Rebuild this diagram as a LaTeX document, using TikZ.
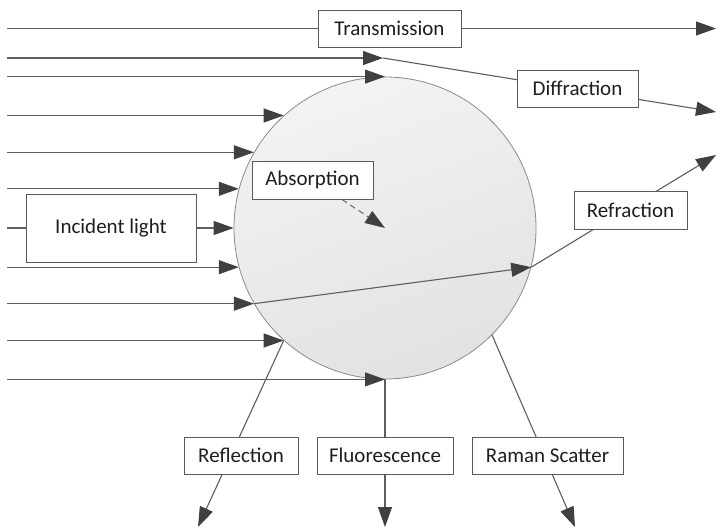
\documentclass[tikz,border=0pt]{standalone}
\usepackage{fontspec}
\setmainfont{Carlito}
\usetikzlibrary{arrows.meta}
\pgfdeclarelayer{circlelayer}
\pgfdeclarelayer{linelayer}
\pgfsetlayers{circlelayer,linelayer,main}
\definecolor{linec}{HTML}{5E5E5E}
\definecolor{tipc}{HTML}{404040}
\definecolor{boxc}{HTML}{5A5A5A}
\definecolor{textc}{HTML}{1E1E1E}
\definecolor{circtop}{HTML}{F3F3F3}
\definecolor{circbot}{HTML}{E2E2E2}
\definecolor{circline}{HTML}{8A8A8A}
\begin{document}
\begin{tikzpicture}[x=1pt,y=-1pt,
  lbl/.style={draw=boxc,line width=0.8pt,fill=white,text=textc,font=\fontsize{21}{25}\selectfont,inner sep=0pt},
  ray/.style={draw=linec,line width=1.1pt,-{Triangle[length=20pt,width=14pt,color=tipc]}},
  plain/.style={draw=linec,line width=1.1pt}]
\useasboundingbox (0,0) rectangle (717,529);
\begin{pgfonlayer}{circlelayer}
\node[circle,minimum size=302pt,inner sep=0pt,draw=circline,line width=0.8pt,top color=circtop,bottom color=circbot,shading angle=20] (drop) at (385,228) {};
\end{pgfonlayer}
\node[lbl,minimum width=143pt,minimum height=37pt] (trans) at (389.5,28.5) {Transmission};
\node[lbl,minimum width=121pt,minimum height=37pt] (diff) at (577.5,88.5) {Diffraction};
\node[lbl,minimum width=113pt,minimum height=38pt] (refr) at (630.5,210) {Refraction};
\node[lbl,minimum width=121pt,minimum height=38pt] (abs) at (312.5,180) {Absorption};
\node[lbl,minimum width=170pt,minimum height=68pt] (inc) at (111,228) {Incident light};
\node[lbl,minimum width=114pt,minimum height=37pt] (refl) at (241,455.5) {Reflection};
\node[lbl,minimum width=136pt,minimum height=37pt] (fluo) at (385,455.5) {Fluorescence};
\node[lbl,minimum width=151pt,minimum height=37pt] (raman) at (547.5,455.5) {Raman Scatter};
\coordinate (L) at (7,0);
\coordinate (transEnd) at (716,28.5);
\coordinate (dtop) at (383,58);
\coordinate (diffEnd) at (716,112);
\coordinate (refrEnd) at (716,155);
\coordinate (reflEnd) at (198,527);
\coordinate (fluoEnd) at (385,527);
\coordinate (ramanEnd) at (575,527);
\begin{pgfonlayer}{linelayer}
\draw[plain] (L |- trans) -- (trans.west);
\draw[ray] (trans.east) -- (transEnd);
\draw[ray] (L |- dtop) -- (dtop);
\draw[ray] (dtop) -- (diffEnd);
\draw[ray] (L |- drop.north) -- (drop.north);
\foreach \a in {132.1,150.2,165.4,195,210.2,228.4}{
  \draw[ray] (L |- drop.\a) -- (drop.\a);
}
\draw[plain] (L |- drop.west) -- (inc.west |- drop.west);
\draw[ray] (inc.east |- drop.west) -- (drop.west);
\draw[ray] (L |- drop.south) -- (drop.south);
\draw[ray] (drop.210.2) -- (drop.-15);
\draw[ray] (drop.-15) -- (refrEnd);
\draw[ray,dashed,dash pattern=on 6pt off 4pt,line width=0.9pt] (abs) -- (drop.center);
\draw[ray] (drop.228.4) -- (reflEnd);
\draw[ray] (drop.south) -- (fluoEnd);
\draw[ray] (drop.-45) -- (ramanEnd);
\end{pgfonlayer}
\end{tikzpicture}
\end{document}
